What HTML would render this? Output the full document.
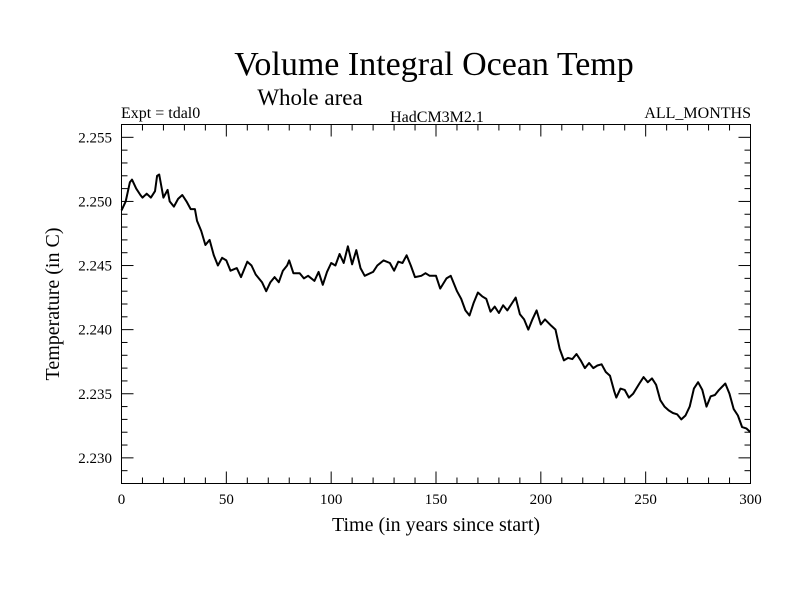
<!DOCTYPE html>
<html><head><meta charset="utf-8"><style>
body{margin:0;background:#fff}
svg text{font-family:"Liberation Serif",serif;fill:#000}
</style></head><body>
<svg id="chart" width="800" height="600" xmlns="http://www.w3.org/2000/svg">
<text x="434" y="75" font-size="34" text-anchor="middle">Volume Integral Ocean Temp</text>
<text x="310" y="105" font-size="23" text-anchor="middle">Whole area</text>
<text x="121" y="118" font-size="16">Expt = tdal0</text>
<text x="437" y="122" font-size="16" text-anchor="middle">HadCM3M2.1</text>
<text x="751" y="118" font-size="16" text-anchor="end">ALL_MONTHS</text>
<rect x="121.5" y="124.5" width="629" height="359" fill="none" stroke="#000" stroke-width="1"/>
<g id="axes"></g>
<text x="436" y="531" font-size="20" text-anchor="middle">Time (in years since start)</text>
<text transform="translate(59,304) rotate(-90)" font-size="20" text-anchor="middle">Temperature (in C)</text>
</svg>
<script>
const years=[0,2,4,5,7,9,10,12,14,16,17,18,19,20,22,23,25,27,29,31,33,35,36,38,40,42,44,46,48,50,52,55,57,60,62,64,67,69,71,73,75,77,79,80,82,85,87,89,92,94,96,98,100,102,104,106,108,110,112,114,116,120,122,125,128,130,132,134,136,138,140,143,145,147,150,152,155,157,160,162,164,166,168,170,172,174,176,178,180,182,184,186,188,190,192,194,196,198,200,202,205,207,209,211,213,215,217,219,221,223,225,227,229,231,233,235,236,238,240,242,244,247,249,251,253,255,257,259,261,263,265,267,269,271,273,275,277,279,281,283,285,288,290,292,294,296,298,300];
const temps=[2.2493,2.2500,2.2515,2.2517,2.2510,2.2505,2.2503,2.2506,2.2503,2.2508,2.2520,2.2521,2.2512,2.2503,2.2509,2.2500,2.2496,2.2502,2.2505,2.2500,2.2494,2.2494,2.2485,2.2477,2.2466,2.2470,2.2458,2.2450,2.2456,2.2454,2.2446,2.2448,2.2441,2.2453,2.2450,2.2443,2.2437,2.2430,2.2437,2.2441,2.2437,2.2446,2.2450,2.2454,2.2444,2.2444,2.2440,2.2442,2.2438,2.2445,2.2435,2.2445,2.2452,2.2450,2.2459,2.2452,2.2465,2.2451,2.2462,2.2448,2.2442,2.2445,2.2450,2.2454,2.2452,2.2446,2.2453,2.2452,2.2458,2.2450,2.2441,2.2442,2.2444,2.2442,2.2442,2.2432,2.2440,2.2442,2.2430,2.2424,2.2415,2.2411,2.2421,2.2429,2.2426,2.2424,2.2414,2.2418,2.2413,2.2419,2.2415,2.2420,2.2425,2.2412,2.2408,2.2400,2.2408,2.2415,2.2404,2.2408,2.2403,2.2400,2.2385,2.2376,2.2378,2.2377,2.2381,2.2376,2.2370,2.2374,2.2370,2.2372,2.2373,2.2367,2.2364,2.2352,2.2347,2.2354,2.2353,2.2347,2.2350,2.2358,2.2363,2.2359,2.2362,2.2357,2.2345,2.2340,2.2337,2.2335,2.2334,2.2330,2.2333,2.2340,2.2354,2.2359,2.2353,2.2340,2.2348,2.2349,2.2353,2.2358,2.2350,2.2338,2.2333,2.2324,2.2323,2.2320];
const xTicks=[0,50,100,150,200,250,300];
const yTicks=[2.230,2.235,2.240,2.245,2.250,2.255];
const X0=121.5,X1=750.5,Y0=483.5,Y1=124.5,XMIN=0,XMAX=300,YMIN=2.228,YMAX=2.256;
const sx=v=>X0+(v-XMIN)/(XMAX-XMIN)*(X1-X0);
const sy=v=>Y0-(v-YMIN)/(YMAX-YMIN)*(Y0-Y1);
const NS='http://www.w3.org/2000/svg';
const g=document.getElementById('axes');
function mk(t,a){const e=document.createElementNS(NS,t);for(const k in a)e.setAttribute(k,a[k]);g.appendChild(e);return e;}
for(let v=0;v<=300;v+=10){const x=sx(v);const L=(v%50===0)?12:6;
 const t1=mk('line',{x1:x,x2:x,y1:Y0,y2:Y0-L,stroke:'#000'});
 
 
 const t2=mk('line',{x1:x,x2:x,y1:Y1,y2:Y1+L,stroke:'#000'});
 
 }
for(let i=0;i<=28;i++){const v=YMIN+i*0.001;const y=sy(v);const L=(i%5===2)?12:6;
 const t1=mk('line',{x1:X0,x2:X0+L,y1:y,y2:y,stroke:'#000'});
 
 
 const t2=mk('line',{x1:X1,x2:X1-L,y1:y,y2:y,stroke:'#000'});
 
 }
xTicks.forEach(v=>{const t=mk('text',{x:sx(v),y:504,'font-size':15,'text-anchor':'middle'});t.textContent=v;
 
 });
yTicks.forEach(v=>{const t=mk('text',{x:112,y:sy(v)+5,'font-size':15,'text-anchor':'end'});t.textContent=v.toFixed(3);
 
 });
const p=mk('path',{d:years.map((y,i)=>(i?'L':'M')+sx(y).toFixed(1)+' '+sy(temps[i]).toFixed(1)).join(' '),fill:'none',stroke:'#000','stroke-width':2,'stroke-linejoin':'round'});


</script>
</body></html>
